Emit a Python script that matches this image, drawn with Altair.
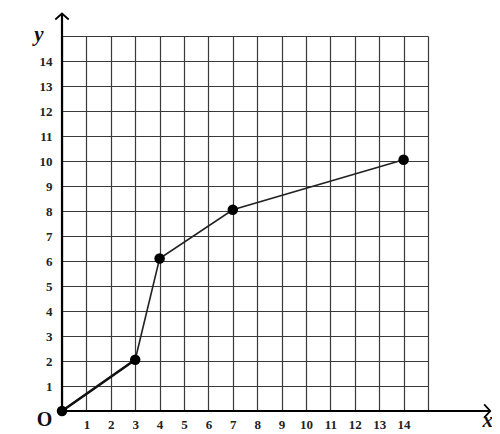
import altair as alt
import pandas as pd

# data
x_vals = [0, 3, 4, 7, 14]
y_vals = [0, 2.05, 6.1, 8.05, 10.05]
tick_values = list(range(16))

df = pd.DataFrame({"x": x_vals, "y": y_vals})
df_first = df.iloc[:2]

FONT = "Liberation Serif"
xs = alt.Scale(domain=[0, 15], nice=False, zero=False)
ys = alt.Scale(domain=[0, 15], nice=False, zero=False)

label_expr = "datum.value == 0 || datum.value == 15 ? '' : datum.label"

xaxis = alt.Axis(values=tick_values, grid=True, gridColor="#3a3a3a", gridWidth=1.2,
                 domain=False, ticks=False, labelExpr=label_expr, labelFont=FONT,
                 labelFontWeight="bold", labelFontSize=13, labelColor="#222",
                 labelPadding=7, title=None, labelAngle=0, labelOverlap=False)
yaxis = alt.Axis(values=tick_values, grid=True, gridColor="#3a3a3a", gridWidth=1.2,
                 domain=False, ticks=False, labelExpr=label_expr, labelFont=FONT,
                 labelFontWeight="bold", labelFontSize=13, labelColor="#222",
                 labelPadding=10, title=None, labelOverlap=False)


def X(field="x"):
    return alt.X(f"{field}:Q", scale=xs, axis=xaxis)


def Y(field="y"):
    return alt.Y(f"{field}:Q", scale=ys, axis=yaxis)


def DX(v):
    return alt.datum(v, scale=xs, axis=xaxis)


def DY(v):
    return alt.datum(v, scale=ys, axis=yaxis)


base = alt.Chart(df)

line = base.mark_line(color="#222", strokeWidth=1.6).encode(x=X(), y=Y())
line1 = alt.Chart(df_first).mark_line(color="#111", strokeWidth=2.6).encode(x=X(), y=Y())
pts = base.mark_circle(color="#000", size=110, opacity=1).encode(x=X(), y=Y())

# axes with arrows
yrule = alt.Chart().mark_rule(color="#000", strokeWidth=2.2).encode(
    x=DX(0), y=DY(0), y2=alt.datum(15.9))
xrule = alt.Chart().mark_rule(color="#000", strokeWidth=1.8).encode(
    y=DY(0), x=DX(0), x2=alt.datum(17.55))
yarrow = alt.Chart().mark_point(shape="M -1 0.9 L 0 0 L 1 0.9", filled=False,
                                color="#000", strokeWidth=1.8, size=180, opacity=1).encode(
    x=DX(0), y=DY(15.9))
xarrow = alt.Chart().mark_point(shape="M -0.9 -1 L 0 0 L -0.9 1", filled=False,
                                color="#000", strokeWidth=1.8, size=180, opacity=1).encode(
    x=DX(17.55), y=DY(0))

ylab = alt.Chart().mark_text(text="y", font=FONT, fontStyle="italic", fontWeight="bold",
                             fontSize=21, color="#111", baseline="middle").encode(
    x=DX(-0.95), y=DY(15.05))
olab = alt.Chart().mark_text(text="O", font=FONT, fontWeight="bold",
                             fontSize=20, color="#111", baseline="middle").encode(
    x=DX(-0.72), y=DY(-0.36))
xlab = alt.Chart().mark_text(text="x", font=FONT, fontStyle="italic", fontWeight="bold",
                             fontSize=21, color="#111", baseline="bottom").encode(
    x=DX(17.45), y=DY(-0.8))

chart = alt.layer(line, line1, pts, yrule, xrule, yarrow, xarrow,
                  ylab, olab, xlab).properties(
    width=366, height=375,
    autosize=alt.AutoSizeParams(type="none"),
    padding={"left": 54, "top": 28, "right": 64, "bottom": 21},
    background="white",
).configure_view(stroke=None)

chart.save("out.html", embed_options={"renderer": "svg", "actions": False})
